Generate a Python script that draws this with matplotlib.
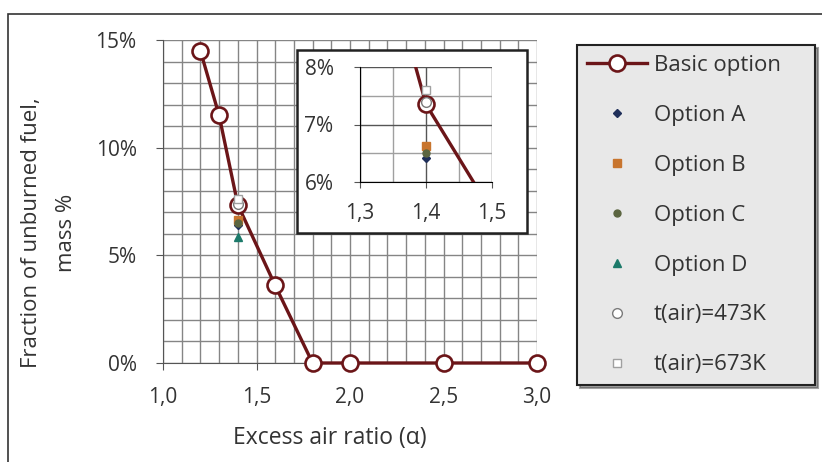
import matplotlib
matplotlib.use("Agg")
import matplotlib.pyplot as plt
from matplotlib.patches import Rectangle
from matplotlib.ticker import FuncFormatter, MultipleLocator

plt.rcParams['font.family'] = ['Open Sans', 'DejaVu Sans']

# ---- data ----
basic_x = [1.2, 1.3, 1.4, 1.6, 1.8, 2.0, 2.5, 3.0]
basic_y = [14.5, 11.5, 7.35, 3.6, 0.0, 0.0, 0.0, 0.0]
option_x = 1.4
opt_a = 6.42
opt_b = 6.62
opt_c = 6.5
opt_d = 5.85
t473 = 7.4
t673 = 7.6
main_xticks = [1.0, 1.5, 2.0, 2.5, 3.0]
main_yticks = [0, 5, 10, 15]
inset_xticks = [1.3, 1.4, 1.5]
inset_yticks = [6, 7, 8]

RED = "#6b1518"
A_COL = "#1f2f5a"
B_COL = "#c8752e"
C_COL = "#5b6540"
D_COL = "#1c7a6a"
GRID = "#858585"
TXT = "#333333"

fig = plt.figure(figsize=(8.22, 4.62), dpi=100)
fig.patch.set_facecolor("white")

# outer frame
fig.patches.append(Rectangle((8/822, -0.05), 1.0, (462-14)/462 + 0.05,
                             transform=fig.transFigure, fill=False,
                             edgecolor="#333333", lw=1.2, zorder=0))

ax = fig.add_axes([163/822, (462-363)/462, (537-163)/822, (363-40)/462])


def draw_series(a):
    a.plot(basic_x, basic_y, color=RED, lw=2.4, marker="o", ms=11.5,
           mfc="white", mec=RED, mew=1.9, clip_on=False, zorder=5,
           label="Basic option")
    a.plot([option_x], [opt_a], ls="none", marker="D", ms=4.5, color=A_COL,
           zorder=6, label="Option A")
    a.plot([option_x], [opt_b], ls="none", marker="s", ms=5.5, color=B_COL,
           zorder=6, label="Option B")
    a.plot([option_x], [opt_c], ls="none", marker="o", ms=5, color=C_COL,
           zorder=6, label="Option C")
    a.plot([option_x], [opt_d], ls="none", marker="^", ms=6, color=D_COL,
           zorder=6, label="Option D")
    a.plot([option_x], [t473], ls="none", marker="o", ms=7, mfc="white",
           mec="#7a7a7a", mew=1.0, zorder=7, label="t(air)=473K")
    a.plot([option_x], [t673], ls="none", marker="s", ms=6, mfc="white",
           mec="#a0a0a0", mew=1.0, zorder=7, label="t(air)=673K")


draw_series(ax)
ax.set_xlim(1.0, 3.0)
ax.set_ylim(0, 15)
ax.set_xticks(main_xticks)
ax.set_yticks(main_yticks)
ax.xaxis.set_minor_locator(MultipleLocator(0.1))
ax.yaxis.set_minor_locator(MultipleLocator(1))
ax.grid(True, which="both", color=GRID, lw=1.0)
ax.set_axisbelow(True)
ax.xaxis.set_major_formatter(FuncFormatter(lambda v, p: f"{v:.1f}".replace(".", ",")))
ax.yaxis.set_major_formatter(FuncFormatter(lambda v, p: f"{v:.0f}%"))
for s in ["top", "right"]:
    ax.spines[s].set_visible(False)
ax.spines["left"].set_color("#555555")
ax.spines["bottom"].set_color("#555555")
ax.tick_params(axis="both", which="major", labelsize=15, colors="#555555",
               labelcolor=TXT, length=5, direction="out")
ax.tick_params(axis="x", which="major", pad=12)
ax.tick_params(axis="y", which="major", pad=14)
ax.tick_params(which="minor", length=0)

fig.text(330/822, 1 - 438/462, "Excess air ratio (\u03b1)", fontsize=16.5,
         color=TXT, ha="center", va="center")
fig.text(49/822, 1 - 233/462, "Fraction of unburned fuel,\nmass %", fontsize=16,
         color=TXT, ha="center", va="center", rotation=90, linespacing=1.85,
         multialignment="center")

# inset frame
fig.patches.append(Rectangle((297/822, (462-233)/462), (527-297)/822, (233-50)/462,
                             transform=fig.transFigure, facecolor="white",
                             edgecolor="#222222", lw=1.8, zorder=3))

ins = fig.add_axes([360/822, (462-182)/462, (492-360)/822, (182-67)/462], zorder=4)
draw_series(ins)
for ln in ins.lines:
    ln.set_clip_on(True)
ins.set_xlim(1.3, 1.5)
ins.set_ylim(6, 8)
ins.set_xticks(inset_xticks)
ins.set_yticks(inset_yticks)
ins.xaxis.set_minor_locator(MultipleLocator(0.05))
ins.yaxis.set_minor_locator(MultipleLocator(0.5))
ins.grid(True, which="major", color="#555555", lw=1.0)
ins.grid(True, which="minor", color="#a0a0a0", lw=1.0)
ins.set_axisbelow(True)
ins.xaxis.set_major_formatter(FuncFormatter(lambda v, p: f"{v:.1f}".replace(".", ",")))
ins.yaxis.set_major_formatter(FuncFormatter(lambda v, p: f"{v:.0f}%"))
for s in ["top", "right"]:
    ins.spines[s].set_visible(False)
ins.tick_params(axis="both", which="major", labelsize=15, labelcolor=TXT,
                colors="#555555", length=4, direction="out")
ins.tick_params(axis="y", which="major", pad=15)
ins.tick_params(axis="x", which="major", pad=11)
ins.tick_params(which="minor", length=0)

# legend
handles, labels = ax.get_legend_handles_labels()
leg = fig.legend(handles, labels, loc="upper left",
                 bbox_to_anchor=(577/822, (462-392)/462, (815-577)/822, (392-45)/462),
                 mode="expand", fontsize=16, frameon=True, fancybox=False,
                 shadow=True, handlelength=2.7, handletextpad=0.3,
                 labelspacing=1.3, borderpad=0.45, borderaxespad=0.0)
fr = leg.get_frame()
fr.set_facecolor("#e8e8e8")
fr.set_edgecolor("#222222")
fr.set_linewidth(1.5)
for t in leg.get_texts():
    t.set_color(TXT)

fig.savefig("out.png", dpi=100)
